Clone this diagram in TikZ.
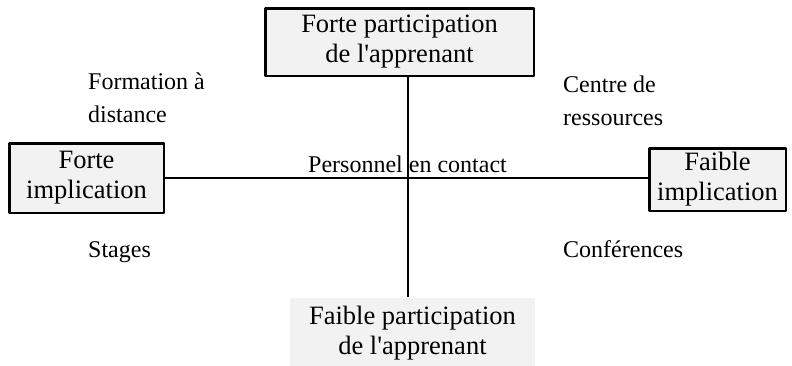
\documentclass[tikz,border=0pt]{standalone}
\usepackage{fontspec}
\setmainfont{Liberation Serif}[Ligatures=TeXOff]
\definecolor{boxgray}{RGB}{242,242,242}
\begin{document}
\begin{tikzpicture}[x=1pt,y=-1pt,line join=round]
            \tikzset{box style/.style={draw=black,line width=2.5pt,fill=boxgray,align=center,inner sep=0pt,font=\fontsize{26.5}{30}\selectfont},
                     label style/.style={align=left,inner sep=0pt,font=\fontsize{24}{33}\selectfont}}
            %%Cadre de la figure
            \useasboundingbox (0,0) rectangle (792,365);
            %%Les quatre pôles
            \node[box style,minimum width=268.5,minimum height=67.5] (haut) at (399.5,42) {Forte participation\\de l'apprenant};
            \node[box style,minimum width=154.5,minimum height=69.5] (gauche) at (86.5,178) {Forte\\implication};
            \node[box style,minimum width=136.5,minimum height=62.5] (droite) at (717.5,179.5) {Faible\\implication};
            \node[box style,draw=none,minimum width=245,minimum height=70] (bas) at (412.5,333) {Faible participation\\de l'apprenant};
            \coordinate (centre) at (408,178);
            %%Les axes
            \draw[line width=2pt] (gauche.east) -- (gauche.east -| droite.west);
            \draw[line width=2pt] (haut.south -| centre) -- (bas.north -| centre);
            %%Les quadrants
            \node[label style,anchor=north west] (formation) at (88,72.5) {Formation à\\distance};
            \node[label style,anchor=north west] (centreres) at (563,75.6) {Centre de\\ressources};
            \node[label style,anchor=base west] (stages) at (88,257) {Stages};
            \node[label style,anchor=base west] (conferences) at (563,257) {Conférences};
            \node[label style,anchor=base west] (personnel) at (308,172) {Personnel en contact};
        \end{tikzpicture}
\end{document}
